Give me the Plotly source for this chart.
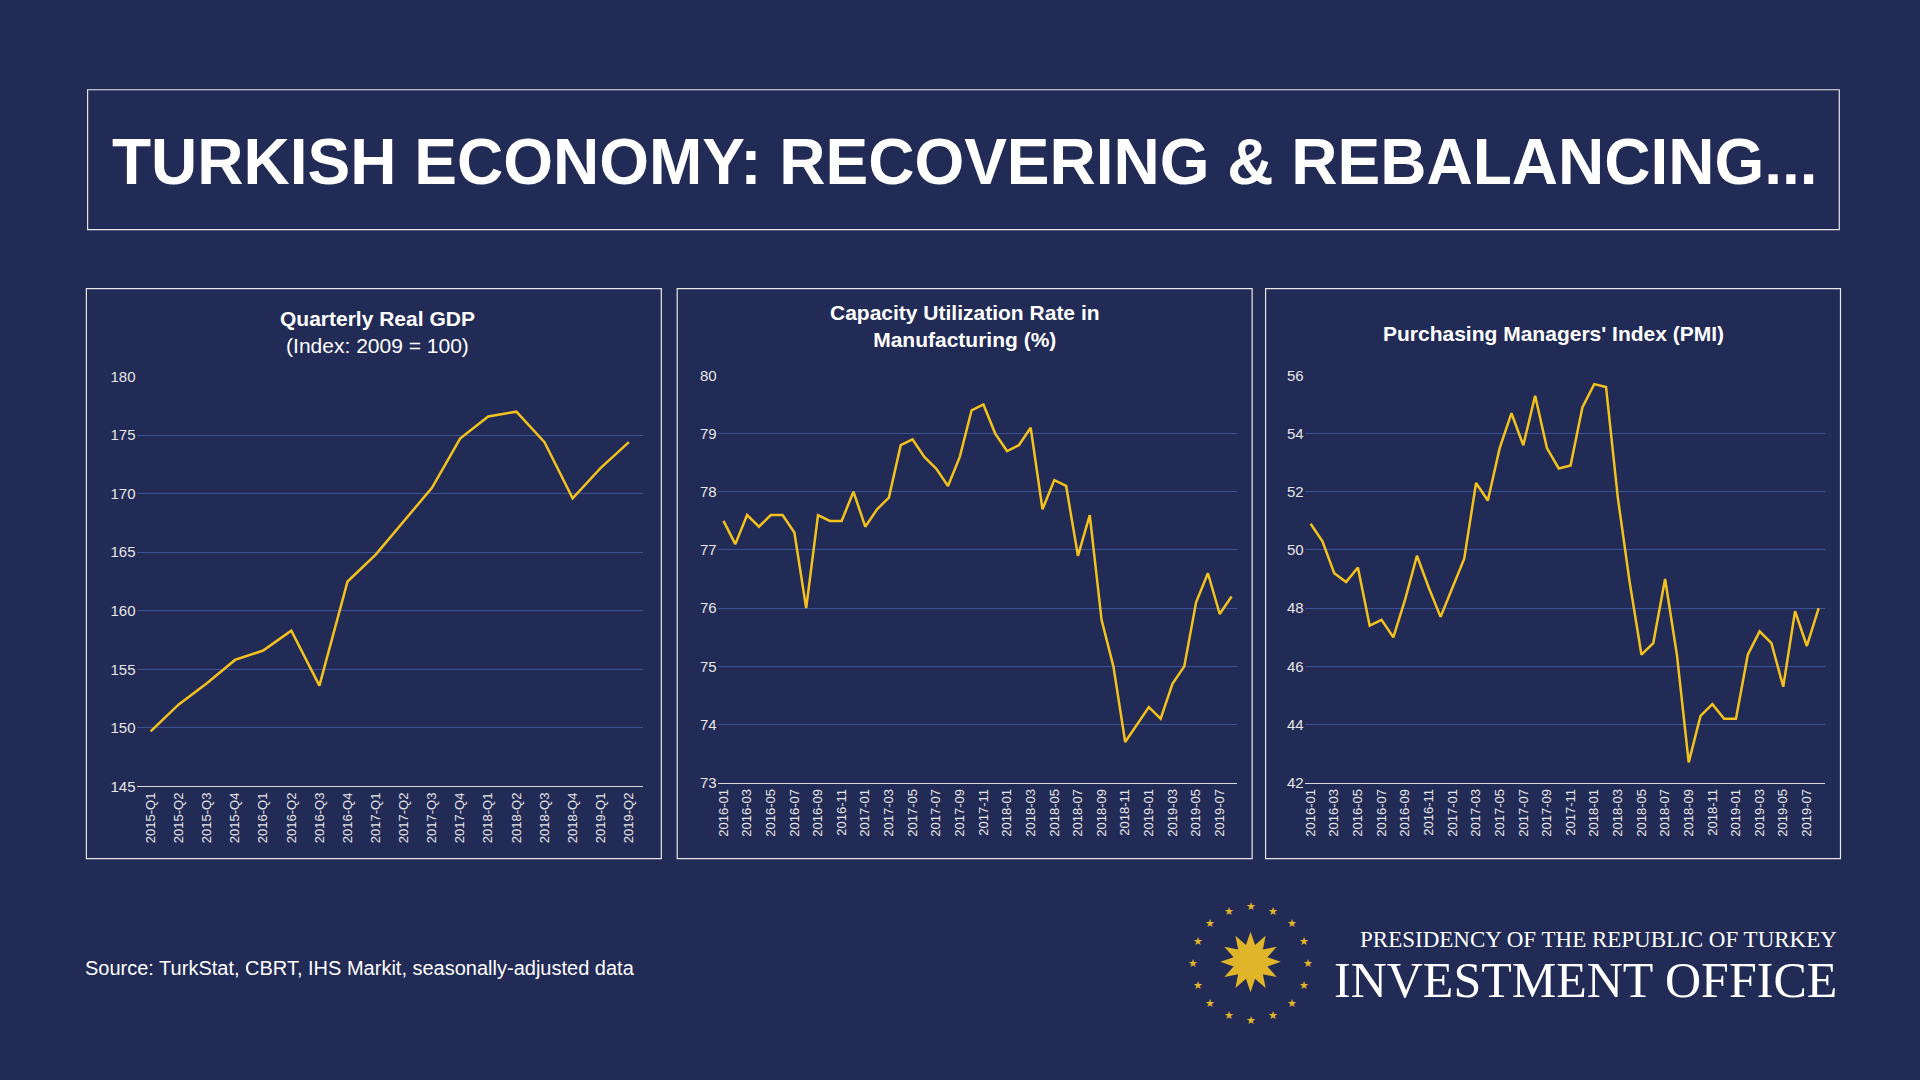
import math
from plotly import graph_objects as go

# ---- data ----
gdp_quarters = ["2015-Q1", "2015-Q2", "2015-Q3", "2015-Q4", "2016-Q1", "2016-Q2", "2016-Q3", "2016-Q4",
                "2017-Q1", "2017-Q2", "2017-Q3", "2017-Q4", "2018-Q1", "2018-Q2", "2018-Q3", "2018-Q4",
                "2019-Q1", "2019-Q2"]
gdp_values = [149.7, 152.0, 153.8, 155.8, 156.6, 158.3, 153.6, 162.5, 164.8, 167.7, 170.5, 174.7,
              176.6, 177.0, 174.4, 169.6, 172.2, 174.4]

months = [f"{y}-{m:02d}" for y in (2016, 2017, 2018, 2019) for m in range(1, 13)][:44]
cu_values = [77.5, 77.1, 77.6, 77.4, 77.6, 77.6, 77.3, 76.0, 77.6, 77.5, 77.5, 78.0,
             77.4, 77.7, 77.9, 78.8, 78.9, 78.6, 78.4, 78.1, 78.6, 79.4, 79.5, 79.0,
             78.7, 78.8, 79.1, 77.7, 78.2, 78.1, 76.9, 77.6, 75.8, 75.0, 73.7, 74.0,
             74.3, 74.1, 74.7, 75.0, 76.1, 76.6, 75.9, 76.2]
pmi_values = [50.9, 50.3, 49.2, 48.9, 49.4, 47.4, 47.6, 47.0, 48.3, 49.8, 48.7, 47.7,
              48.7, 49.7, 52.3, 51.7, 53.5, 54.7, 53.6, 55.3, 53.5, 52.8, 52.9, 54.9,
              55.7, 55.6, 51.8, 48.9, 46.4, 46.8, 49.0, 46.4, 42.7, 44.3, 44.7, 44.2,
              44.2, 46.4, 47.2, 46.8, 45.3, 47.9, 46.7, 48.0]

BG = "#222a56"
GOLD = "#f4c21c"
GRID = "#3b5294"
W, H = 1568, 882  # reference pixel space


def px(x): return x / W
def py(y): return 1 - y / H


fig = go.Figure()
fig.add_trace(go.Scatter(x=gdp_quarters, y=gdp_values, mode="lines", line=dict(color=GOLD, width=2.5),
                         xaxis="x", yaxis="y"))
fig.add_trace(go.Scatter(x=months, y=cu_values, mode="lines", line=dict(color=GOLD, width=2.5),
                         xaxis="x2", yaxis="y2"))
fig.add_trace(go.Scatter(x=months, y=pmi_values, mode="lines", line=dict(color=GOLD, width=2.5),
                         xaxis="x3", yaxis="y3"))

xcommon = dict(type="category", tickangle=-90, showgrid=False, zeroline=False, showline=True,
               linecolor="#d9d9d9", linewidth=1, tickfont=dict(size=13, color="#e6e6e6", family="Liberation Sans"),
               ticks="")
ycommon = dict(showgrid=True, gridcolor=GRID, gridwidth=1, zeroline=False, showline=False,
               tickfont=dict(size=15, color="#e6e6e6", family="Liberation Sans"), ticks="")

fig.update_layout(
    xaxis=dict(xcommon, domain=[px(110), px(524)], anchor="y", range=[-0.5, 17.5]),
    yaxis=dict(ycommon, domain=[py(645), py(305)], range=[145, 180], dtick=5, anchor="x"),
    xaxis2=dict(xcommon, domain=[px(585), px(1010)], anchor="y2", tickvals=months[::2], range=[-0.5, 43.5]),
    yaxis2=dict(ycommon, domain=[py(642), py(304)], range=[73, 80], dtick=1, anchor="x2"),
    xaxis3=dict(xcommon, domain=[px(1065), px(1490)], anchor="y3", tickvals=months[::2], range=[-0.5, 43.5]),
    yaxis3=dict(ycommon, domain=[py(642), py(304)], range=[42, 56], dtick=2, anchor="x3"),
)

shapes = []
# title box and panel frames
for x0, y0, x1, y1 in [(70, 67, 1502, 183), (69, 232, 539, 705), (552, 232, 1022, 705), (1033, 232, 1503, 705)]:
    shapes.append(dict(type="rect", xref="paper", yref="paper", x0=px(x0), x1=px(x1), y0=py(y1), y1=py(y0),
                       line=dict(color="#e8e8e8", width=1.2)))

ann = [
    dict(x=px(787), y=py(127), text="<b>TURKISH ECONOMY: RECOVERING &amp; REBALANCING...</b>",
         font=dict(size=64, color="white", family="Liberation Sans")),
    dict(x=px(307), y=py(268), text="<b>Quarterly Real GDP</b><br>(Index: 2009 = 100)",
         font=dict(size=21, color="white", family="Liberation Sans")),
    dict(x=px(787), y=py(263), text="<b>Capacity Utilization Rate in<br>Manufacturing (%)</b>",
         font=dict(size=21, color="white", family="Liberation Sans")),
    dict(x=px(1268), y=py(269), text="<b>Purchasing Managers' Index (PMI)</b>",
         font=dict(size=21, color="white", family="Liberation Sans")),
    dict(x=px(66), y=py(796), text="Source: TurkStat, CBRT, IHS Markit, seasonally-adjusted data",
         xanchor="left", font=dict(size=20, color="white", family="Liberation Sans")),
    dict(x=px(1502), y=py(772), text="PRESIDENCY OF THE REPUBLIC OF TURKEY", xanchor="right",
         font=dict(size=23, color="white", family="Liberation Serif")),
    dict(x=px(1502), y=py(806), text="INVESTMENT OFFICE", xanchor="right",
         font=dict(size=50, color="white", family="Liberation Serif")),
    # emblem centre
    dict(x=px(1021), y=py(792), text="✹", font=dict(size=80, color="#e0b52a", family="DejaVu Sans")),
]
# ring of small stars around the emblem
for i in range(16):
    a = 2 * math.pi * i / 16
    ann.append(dict(x=px(1021 + 47 * math.cos(a)), y=py(792 + 47 * math.sin(a)), text="★",
                    font=dict(size=11, color="#e0b52a", family="DejaVu Sans")))
for a_ in ann:
    a_.setdefault("xanchor", "center")
    a_.update(xref="paper", yref="paper", showarrow=False, yanchor="middle")

fig.update_layout(width=1920, height=1080, paper_bgcolor=BG, plot_bgcolor=BG, showlegend=False,
                  margin=dict(l=0, r=0, t=0, b=0), shapes=shapes, annotations=ann)
fig.write_html("out.html", config={"displayModeBar": False},
               post_script="document.body.style.margin='0';")
